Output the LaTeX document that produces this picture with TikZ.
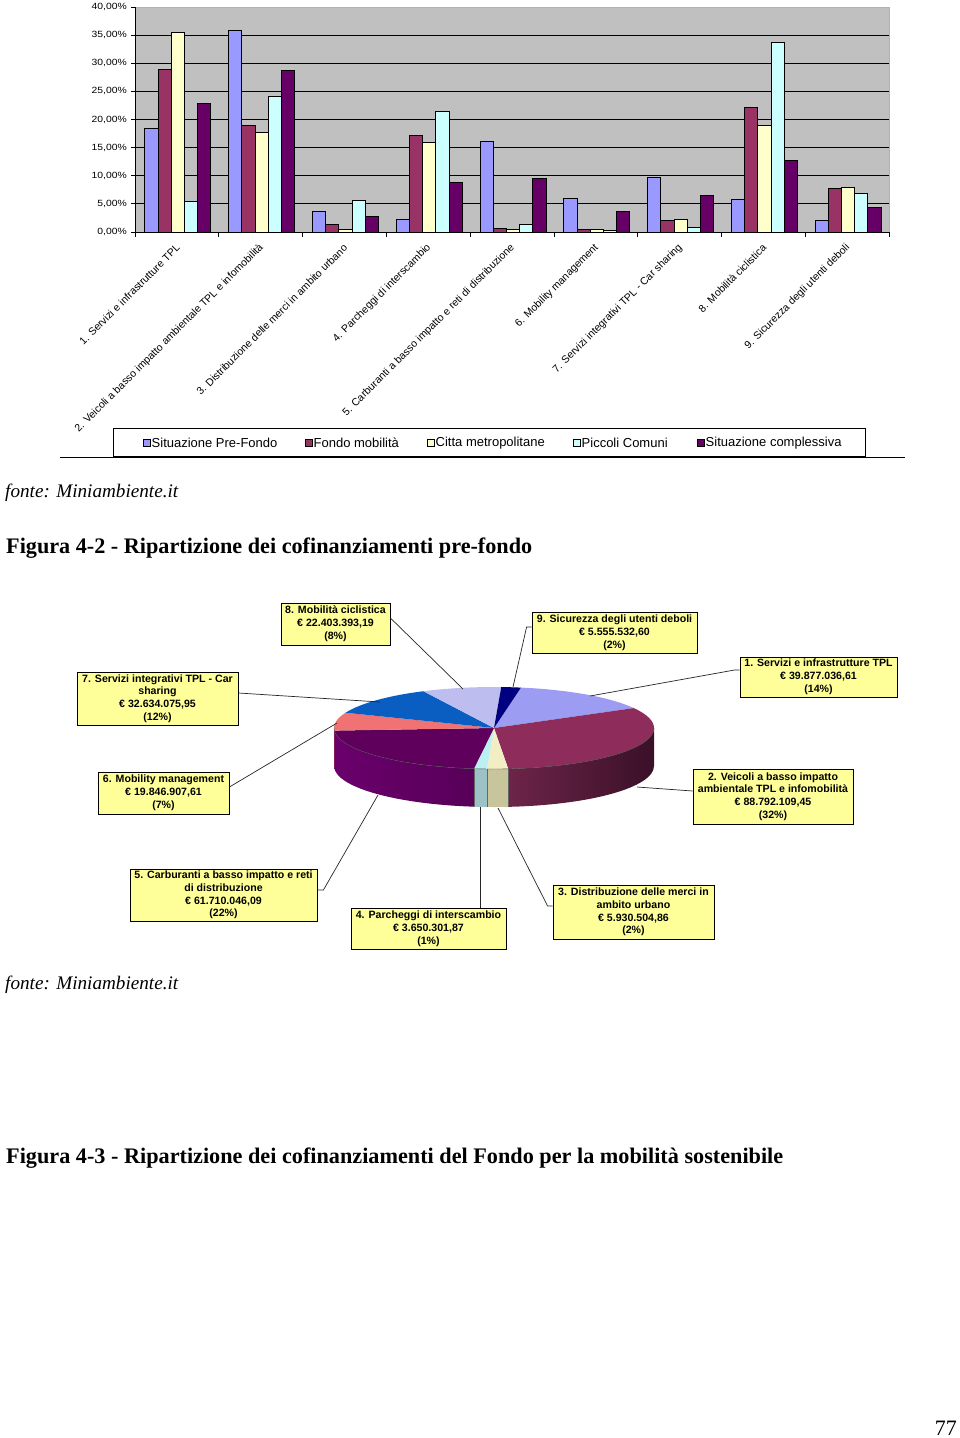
\documentclass[tikz,border=0pt]{standalone}
\usepackage{fontspec}
\setmainfont{Liberation Serif}
\newfontfamily\arial{Liberation Sans}
\usepackage{graphicx}
\definecolor{cA}{HTML}{9999FF}
\definecolor{cB}{HTML}{993366}
\definecolor{cC}{HTML}{FFFFCC}
\definecolor{cD}{HTML}{CCFFFF}
\definecolor{cE}{HTML}{660066}
\definecolor{plotbg}{HTML}{C0C0C0}
\definecolor{lblbg}{HTML}{FFFF99}
\definecolor{p1}{HTML}{9C9CF2}
\definecolor{p2}{HTML}{8E2C5C}
\definecolor{p3}{HTML}{F2EDC2}
\definecolor{p4}{HTML}{BCEFF2}
\definecolor{p5}{HTML}{5E005C}
\definecolor{p6}{HTML}{F07272}
\definecolor{p7}{HTML}{0A5EC2}
\definecolor{p8}{HTML}{BDBDEF}
\definecolor{p9}{HTML}{000080}
\definecolor{s2a}{HTML}{72264C}
\definecolor{s2b}{HTML}{3A1028}
\definecolor{s3}{HTML}{C8C49C}
\definecolor{s4}{HTML}{9DC2C6}
\definecolor{s5a}{HTML}{6A006C}
\definecolor{s5b}{HTML}{540056}
\newcommand\pietop[3]{\fill[#3] (pc) -- ++(#1:160pt and 41pt) arc[start angle=#1, end angle=#2, x radius=160pt, y radius=41pt] -- cycle;}
\newcommand\pieside[3]{\shade[#3] (pc) ++(#1:160pt and 41pt) arc[start angle=#1, end angle=#2, x radius=160pt, y radius=41pt] -- ++(0pt,-38pt) arc[start angle=#2, end angle=#1, x radius=160pt, y radius=41pt] -- cycle;}
\begin{document}
\begin{tikzpicture}[x=1pt,y=-1pt,
  bar/.style={draw=black, line width=0.7pt},
  ylab/.style={anchor=east, inner sep=0, font=\arial\fontsize{9}{9}\selectfont, xscale=1.15},
  catlab/.style={anchor=east, rotate=45, inner sep=0, font=\arial\fontsize{10.5}{10.5}\selectfont},
  legtext/.style={anchor=west, inner sep=0, font=\arial\fontsize{13}{13}\selectfont},
  legsq/.style={draw=black, line width=0.6pt, minimum size=7pt, inner sep=0},
  lbl/.style={draw=black, line width=0.8pt, fill=lblbg, align=center, inner sep=0, font=\arial\bfseries\fontsize{10.6}{12.8}\selectfont},
  leader/.style={draw=black!85, line width=0.7pt}]
\useasboundingbox (0,0) rectangle (960,1438);
\fill[white] (0,0) rectangle (960,1438);
% ---------- bar chart ----------
\fill[plotbg] (135,7) rectangle (889,232);
\draw[gray!60, line width=0.6pt] (135,7) -- (889,7) -- (889,232);
\foreach \k in {1,...,7} \draw[black, line width=0.9pt] (135,232-\k*28.125) -- (889,232-\k*28.125);
\draw[black, line width=0.9pt] (135,7) -- (135,232) -- (889,232);
\foreach \k in {0,...,8} \draw[black, line width=0.8pt] (131,232-\k*28.125) -- (135,232-\k*28.125);
\foreach \k in {0,...,9} \draw[black, line width=0.8pt] (135+\k*83.78,232) -- (135+\k*83.78,237);
\foreach \k/\t in {0/0,1/5,2/10,3/15,4/20,5/25,6/30,7/35,8/40}
  \node[ylab] at (127,232-\k*28.125) {\t,00\%};
\foreach \c/\va/\vb/\vc/\vd/\ve in {0/18.4/28.9/35.5/5.4/22.8, 1/35.9/19.0/17.8/24.1/28.7, 2/3.6/1.4/0.5/5.6/2.7, 3/2.3/17.2/15.9/21.4/8.8, 4/16.2/0.7/0.4/1.3/9.5, 5/5.9/0.5/0.5/0.35/3.6, 6/9.8/2.1/2.3/0.9/6.6, 7/5.8/22.2/19.0/33.7/12.8, 8/2.0/7.8/8.0/6.8/4.4}{
  \pgfmathsetmacro\xo{135+\c*83.78+9.8}
  \draw[bar, fill=cA] (\xo,232) rectangle ++(13.2,-\va*5.625);
  \draw[bar, fill=cB] (\xo+13.2,232) rectangle ++(13.2,-\vb*5.625);
  \draw[bar, fill=cC] (\xo+26.4,232) rectangle ++(13.2,-\vc*5.625);
  \draw[bar, fill=cD] (\xo+39.6,232) rectangle ++(13.2,-\vd*5.625);
  \draw[bar, fill=cE] (\xo+52.8,232) rectangle ++(13.2,-\ve*5.625);
}
\foreach \c/\t in {0/1. Servizi e infrastrutture TPL, 1/2. Veicoli a basso impatto ambientale TPL e infomobilità, 2/3. Distribuzione delle merci in ambito urbano, 3/4. Parcheggi di interscambio, 4/5. Carburanti a basso impatto e reti di distribuzione, 5/6. Mobility management, 6/7. Servizi integrativi TPL - Car sharing, 7/8. Mobilità ciclistica, 8/9. Sicurezza degli utenti deboli}
  \node[catlab] at (135+\c*83.78+43,246) {\t};
% legend
\draw[black, line width=0.8pt] (60,457) -- (905,457);
\draw[black, line width=0.8pt, fill=white] (113,428) rectangle (865,456);
\node[legsq, fill=cA] (lq1) at (146.5,443) {};
\node[legtext] (lt1) at (151.5,443) {Situazione Pre-Fondo};
\node[legsq, fill=cB] (lq2) at (308.5,443) {};
\node[legtext] (lt2) at (313.5,443) {Fondo mobilità};
\node[legsq, fill=cC] (lq3) at (430.5,443) {};
\node[legtext] (lt3) at (435.5,443) {Citta metropolitane};
\node[legsq, fill=cD] (lq4) at (576.5,443) {};
\node[legtext] (lt4) at (581.5,443) {Piccoli Comuni};
\node[legsq, fill=cE] (lq5) at (700.5,443) {};
\node[legtext] (lt5) at (705.5,443) {Situazione complessiva};
% captions
\node[anchor=base west, inner sep=0] (src1) at (5,497) {\resizebox{173pt}{!}{\itshape fonte: Miniambiente.it}};
\node[anchor=base west, inner sep=0] (cap1) at (6,553) {\resizebox{526pt}{!}{\bfseries Figura 4-2 - Ripartizione dei cofinanziamenti pre-fondo}};
\node[anchor=base west, inner sep=0] (src2) at (5,989) {\resizebox{173pt}{!}{\itshape fonte: Miniambiente.it}};
\node[anchor=base west, inner sep=0] (cap2) at (6,1163) {\resizebox{777pt}{!}{\bfseries Figura 4-3 - Ripartizione dei cofinanziamenti del Fondo per la mobilità sostenibile}};
\node[anchor=base east, inner sep=0] (pg) at (957,1435) {\resizebox{22pt}{!}{77}};
% ---------- pie chart ----------
\coordinate (pc) at (494,728);
\pieside{0}{-84.9}{left color=s2a, right color=s2b}
\pieside{-84.9}{-92.5}{left color=s3, right color=s3}
\pieside{-92.5}{-97.2}{left color=s4, right color=s4}
\pieside{-97.2}{-176.4}{left color=s5a, right color=s5b}
\pieside{-176.4}{-180}{left color=p6!70!black, right color=p6!70!black}
\draw[black!60, line width=0.4pt] (pc) ++(-84.9:160pt and 41pt) -- ++(0pt,-38pt);
\draw[black!60, line width=0.4pt] (pc) ++(-92.5:160pt and 41pt) -- ++(0pt,-38pt);
\draw[black!60, line width=0.4pt] (pc) ++(-97.2:160pt and 41pt) -- ++(0pt,-38pt);
\pietop{80.3}{29.1}{p1}
\pietop{29.1}{-84.9}{p2}
\pietop{-84.9}{-92.5}{p3}
\pietop{-92.5}{-97.2}{p4}
\pietop{-97.2}{-176.4}{p5}
\pietop{-176.4}{-201.9}{p6}
\pietop{-201.9}{-243.8}{p7}
\pietop{-243.8}{-272.6}{p8}
\pietop{-272.6}{-279.7}{p9}
\draw[black!70, line width=0.4pt] (pc) ++(-180:160pt and 41pt) arc[start angle=-180, end angle=0, x radius=160pt, y radius=41pt];
% pie labels
\node[lbl, minimum width=109pt, minimum height=42pt] (b8) at (335.5,624) {8. Mobilità ciclistica\\€ 22.403.393,19\\(8\%)};
\node[lbl, minimum width=165pt, minimum height=41pt] (b9) at (614.5,632.5) {9. Sicurezza degli utenti deboli\\€ 5.555.532,60\\(2\%)};
\node[lbl, minimum width=157pt, minimum height=40pt] (b1) at (818.5,677) {1. Servizi e infrastrutture TPL\\€ 39.877.036,61\\(14\%)};
\node[lbl, minimum width=161pt, minimum height=53pt] (b7) at (157.5,698.5) {7. Servizi integrativi TPL - Car\\sharing\\€ 32.634.075,95\\(12\%)};
\node[lbl, minimum width=131pt, minimum height=42pt] (b6) at (163.5,793) {6. Mobility management\\€ 19.846.907,61\\(7\%)};
\node[lbl, minimum width=187pt, minimum height=52pt] (b5) at (223.5,895) {5. Carburanti a basso impatto e reti\\di distribuzione\\€ 61.710.046,09\\(22\%)};
\node[lbl, minimum width=155pt, minimum height=41pt] (b4) at (428.5,928.5) {4. Parcheggi di interscambio\\€ 3.650.301,87\\(1\%)};
\node[lbl, minimum width=161pt, minimum height=54pt] (b3) at (633.5,912) {3. Distribuzione delle merci in\\ambito urbano\\€ 5.930.504,86\\(2\%)};
\node[lbl, minimum width=160pt, minimum height=55pt] (b2) at (773,796.5) {2. Veicoli a basso impatto\\ambientale TPL e infomobilità\\€ 88.792.109,45\\(32\%)};
% leader end points on the pie
\coordinate (e8) at (463,689);
\coordinate (e9) at (513,687);
\coordinate (e1) at (590,696);
\coordinate (e7) at (380,702);
\coordinate (e6) at (337,723);
\coordinate (e5) at (378,795);
\coordinate (e4) at (480,807);
\coordinate (e3) at (498,808);
\coordinate (e2) at (637,787);
\draw[leader] ([yshift=6pt]b8.east) -- (e8);
\draw[leader] ([yshift=5.5pt]b9.west) -- ++(-5,0) -- (e9);
\draw[leader] ([yshift=7pt]b1.west) -- ++(-5,0) -- (e1);
\draw[leader] ([yshift=5.5pt]b7.east) -- (e7);
\draw[leader] ([yshift=6pt]b6.east) -- (e6);
\draw[leader] ([yshift=5pt]b5.east) -- ++(6,0) -- (e5);
\draw[leader] (e4 |- b4.north) -- (e4);
\draw[leader] ([yshift=6pt]b3.west) -- ++(-5,0) -- (e3);
\draw[leader] ([yshift=5.5pt]b2.west) -- (e2);
\end{tikzpicture}
\end{document}
